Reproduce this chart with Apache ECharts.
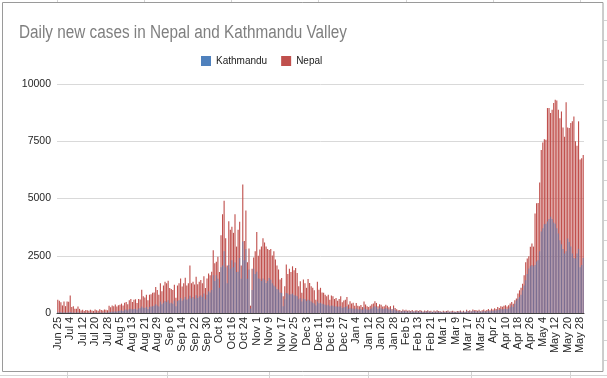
<!DOCTYPE html>
<html><head><meta charset="utf-8">
<script src="https://cdn.jsdelivr.net/npm/echarts@6/dist/echarts.min.js"></script>
<style>html,body{margin:0;padding:0;background:#fff}#c{width:607px;height:378px}</style>
</head><body><div id="c"></div>
<script>
// ---- data ----
const titleText = 'Daily new cases in Nepal and Kathmandu Valley';
const seriesNames = ['Kathmandu', 'Nepal'];
const startDate = '2020-06-25';
const skippedDate = '2020-06-30';
const monthNames = ['Jan','Feb','Mar','Apr','May','Jun','Jul','Aug','Sep','Oct','Nov','Dec'];
const yTicks = [0, 2500, 5000, 7500, 10000];

const nepal = [
580,540,470,330,500,300,500,490,760,260,
290,190,190,280,180,110,140,90,130,120,
100,140,110,90,150,120,100,160,130,110,
150,140,120,320,250,330,300,370,280,340,
360,410,330,450,480,380,560,610,480,580,
600,440,610,590,1020,730,680,800,560,800,
820,880,900,1140,1000,800,1300,950,1200,1370,
1300,1410,1090,1050,1000,1230,670,1200,1300,1510,
1160,1300,1540,1200,1300,2070,1300,1370,1250,1580,
1260,1370,1440,1300,1610,1090,1510,1720,1650,1800,
2740,2170,2240,2460,1790,3400,4310,4900,3260,2070,
4010,3630,3770,3500,4310,2900,3630,3990,2070,5610,
3140,4480,2220,2820,320,1930,2420,2700,3540,2500,
2770,2900,3260,3080,2900,2800,2750,2800,2510,2700,
2340,2070,1900,1460,1530,730,1170,2120,1700,1930,
1790,2040,1870,1970,1750,1170,1390,880,1460,1300,
1100,1490,1310,1170,1100,990,580,1370,1020,1100,
900,880,800,730,800,580,760,730,610,650,
540,610,730,470,550,580,700,370,510,410,
450,320,440,320,290,350,260,500,370,300,
260,320,380,420,510,440,300,380,360,280,
300,360,320,250,300,180,330,220,160,120,
130,90,150,110,140,100,120,90,130,80,
110,120,90,130,100,70,110,90,120,80,
100,60,110,70,120,90,80,60,100,70,
90,110,60,80,100,70,60,90,80,110,
70,100,60,140,90,120,80,150,120,130,
100,140,80,120,150,100,130,170,120,190,
150,210,180,260,220,300,270,320,340,280,
340,420,480,400,560,630,850,990,1100,1280,
1650,2220,2380,2480,2890,3040,2900,4350,4790,4800,
5700,7120,7450,7590,7570,8950,8950,8730,8880,9170,
9310,9280,8880,8500,8800,8100,7700,9200,8100,8080,
8300,8370,8580,7500,7300,8370,6700,6760,6900
];

const kathmandu = [
30,25,40,15,30,20,25,30,45,20,
25,15,20,30,15,10,20,10,15,12,
10,20,15,10,25,20,15,30,20,15,
30,25,20,60,40,70,60,80,60,90,
100,120,90,140,150,110,170,190,150,180,
190,140,200,210,280,230,220,260,180,270,
280,300,320,380,330,280,500,380,450,520,
480,560,420,450,400,550,300,520,560,650,
540,600,700,580,620,750,640,700,620,780,
650,720,760,700,850,600,800,950,900,1000,
1650,1400,1650,1500,1100,2000,2070,2700,2000,1300,
2100,1930,2300,2000,2200,1790,1800,2400,1500,3120,
2300,2800,1500,1900,200,1000,1930,1700,1800,1510,
1500,1400,1510,1450,1310,1400,1530,1450,1300,1200,
1150,1050,1020,900,870,290,600,870,850,800,
820,850,780,760,730,600,650,500,620,600,
520,580,550,500,450,420,330,500,430,450,
400,380,360,330,360,290,330,320,280,290,
270,280,300,220,250,260,290,180,230,190,
200,160,210,160,150,170,130,240,180,150,
130,170,200,250,300,260,180,230,210,170,
180,220,190,150,180,110,200,130,100,80,
80,60,100,70,90,60,80,60,80,50,
70,80,60,80,60,40,70,60,80,50,
60,40,70,40,80,60,50,40,60,40,
60,70,40,50,60,40,40,60,50,70,
40,60,40,90,60,80,50,100,80,80,
60,90,50,70,90,60,80,100,70,110,
90,120,110,150,130,170,150,180,190,160,
200,250,340,260,400,550,620,700,800,990,
1200,1430,1700,1940,2040,2100,2040,2100,2250,2300,
2700,3560,3700,3880,3900,4000,4100,4200,4100,3950,
3900,3700,3470,3180,3000,2800,2600,2700,3250,3100,
2900,2600,2400,2380,2600,2800,2000,2100,2400
];

// ---- categories (daily dates) ----
const categories = [];
(function () {
  let t = Date.parse(startDate + 'T00:00:00Z');
  while (categories.length < nepal.length) {
    const d = new Date(t);
    const iso = d.toISOString().slice(0, 10);
    if (iso !== skippedDate) categories.push(monthNames[d.getUTCMonth()] + ' ' + d.getUTCDate());
    t += 86400000;
  }
})();

const chart = echarts.init(document.getElementById('c'), null, { renderer: 'canvas' });
const FONT = '"Liberation Sans", Arial, sans-serif';

const sheetLines = [];
[57, 144, 231, 318, 406, 493, 580].forEach(x => sheetLines.push({ type: 'line', silent: true, shape: { x1: x + 0.5, y1: 0, x2: x + 0.5, y2: 2 }, style: { stroke: '#d4d4d4', lineWidth: 1 } }));
[67, 167, 269, 368, 471, 570].forEach(x => sheetLines.push({ type: 'line', silent: true, shape: { x1: x + 0.5, y1: 372, x2: x + 0.5, y2: 378 }, style: { stroke: '#d4d4d4', lineWidth: 1 } }));
for (let y = 20; y < 378; y += 20) sheetLines.push({ type: 'line', silent: true, shape: { x1: 604, y1: y + 0.5, x2: 607, y2: y + 0.5 }, style: { stroke: '#d4d4d4', lineWidth: 1 } });
sheetLines.push({ type: 'line', silent: true, shape: { x1: 0, y1: 375.5, x2: 607, y2: 375.5 }, style: { stroke: '#d4d4d4', lineWidth: 1 } });

chart.setOption({
  animation: false,
  backgroundColor: '#ffffff',
  legend: {
    data: [
      { name: seriesNames[0], itemStyle: { color: '#4F81BD', opacity: 1 } },
      { name: seriesNames[1], itemStyle: { color: '#C0504D' } }
    ],
    left: 196, top: 51,
    itemWidth: 10, itemHeight: 10, itemGap: 14,
    icon: 'rect',
    textStyle: { fontFamily: FONT, fontSize: 10, color: '#1a1a1a' }
  },
  grid: { left: 57, right: 23, top: 84, bottom: 65, containLabel: false },
  xAxis: {
    type: 'category',
    data: categories,
    boundaryGap: true,
    axisLine: { show: true, lineStyle: { color: '#404040', width: 1 } },
    axisTick: { show: false },
    axisLabel: { interval: 7, rotate: 90, margin: 4, fontSize: 11, color: '#262626', fontFamily: FONT }
  },
  yAxis: {
    type: 'value',
    min: yTicks[0], max: yTicks[yTicks.length - 1], interval: yTicks[1] - yTicks[0],
    axisLine: { show: false },
    axisTick: { show: false },
    splitLine: { lineStyle: { color: '#d9d9d9', width: 1 } },
    axisLabel: { margin: 6, fontSize: 10.5, color: '#262626', fontFamily: FONT, formatter: v => String(v) }
  },
  series: [
    { name: seriesNames[1], type: 'bar', data: nepal, barWidth: '72%', barGap: '-100%', itemStyle: { color: '#C0504D' } },
    { name: seriesNames[0], type: 'bar', data: kathmandu, barWidth: '72%', barGap: '-100%', itemStyle: { color: 'rgba(79,129,189,0.62)' } }
  ],
  graphic: sheetLines.concat([
    { type: 'rect', silent: true, shape: { x: 2.5, y: 2.5, width: 600.5, height: 369 }, style: { fill: null, stroke: '#9a9a9a', lineWidth: 1 } },
    { type: 'text', silent: true, x: 19, y: 33, scaleX: 0.85, style: { text: titleText, fontFamily: FONT, fontSize: 18, fill: '#7f7f7f', verticalAlign: 'middle', align: 'left' } }
  ])
});
</script></body></html>
